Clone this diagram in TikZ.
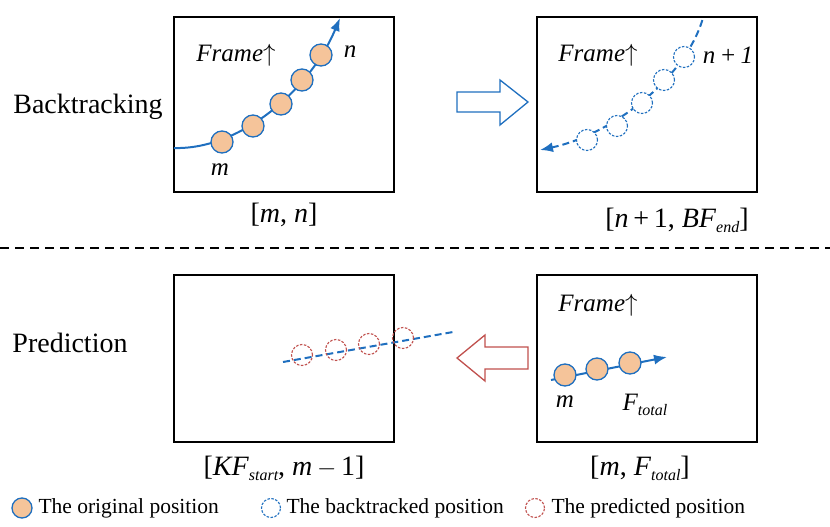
\documentclass[tikz,border=0pt]{standalone}
\usepackage{fontspec}
\setmainfont{Liberation Serif}
\usetikzlibrary{arrows.meta}
\definecolor{bl}{HTML}{1F6FBF}
\definecolor{rd}{HTML}{C0504D}
\definecolor{pe}{HTML}{F5C49A}
\newcommand{\mysub}[1]{\raisebox{-5pt}{\fontsize{16}{16}\selectfont\itshape #1}}
\tikzset{frm/.style={draw,line width=1.2pt},
orig/.style={circle,draw=bl,fill=pe,line width=1.3pt,minimum size=22pt,inner sep=0pt},
back/.style={circle,draw=bl,dash pattern=on 2.5pt off 1.5pt,line width=1.1pt,minimum size=21pt,inner sep=0pt},
pred/.style={circle,draw=rd,dash pattern=on 2.5pt off 1.5pt,line width=1.1pt,minimum size=21pt,inner sep=0pt},
lbl/.style={font=\fontsize{28}{30}\selectfont},
txt/.style={font=\fontsize{25}{27}\selectfont\itshape},
leg/.style={font=\fontsize{21.5}{24}\selectfont,anchor=west}}
\begin{document}
\begin{tikzpicture}[x=1pt,y=-1pt]
\useasboundingbox (0,0) rectangle (830,527);
\draw[frm] (174,17) rectangle (394,192);
\draw[frm] (537,17) rectangle (757,192);
\draw[frm] (174,275) rectangle (394,442);
\draw[frm] (537,275) rectangle (757,442);
\draw[line width=1.2pt,dash pattern=on 9pt off 6pt] (0,248)--(830,248);
\node[lbl] (bt) at (88,107) {Backtracking};
\node[lbl] (pr) at (70,343) {Prediction};
% top-left
\draw[bl,line width=2pt,-{Latex[length=13pt,width=10pt]}] (174,148) .. controls (240,150) and (310,90) .. (340,18);
\foreach \n/\x/\y in {a/222/142,b/253/126,c/281/104,d/302/80,e/321/55}\node[orig] (\n) at (\x,\y) {};
\node[txt] (f1) at (236,55) {Frame$\uparrow$};
\node[txt] (n1) at (350,52) {n};
\node[txt] (m1) at (220,170) {m};
\node[lbl] (l1) at (284,215) {[\textit{m}, \textit{n}]};
% top-right
\draw[bl,line width=2pt,dash pattern=on 7pt off 4pt,{Latex[length=13pt,width=10pt]}-] (540,150) .. controls (610,135) and (685,80) .. (703,18);
\foreach \n/\x/\y in {p/587/140,q/617/126,r/642/103,s/664/80,t/684/57}\node[back,fill=white] (\n) at (\x,\y) {};
\node[txt] (f2) at (598,55) {Frame$\uparrow$};
\node[txt] (n2) at (728,55) {n\,+\,1};
\node[lbl] (l2) at (677,220) {[\textit{n}\,+\,1, \textit{BF}\mysub{end}]};
\draw[bl,line width=1.3pt] (457,92)--(500,92)--(500,80)--(528,102)--(500,125)--(500,112)--(457,112)--cycle;
\coordinate (a1) at (492,102);
% bottom-left
\draw[bl,line width=2pt,dash pattern=on 7pt off 4pt] (283,362)--(453,332);
\foreach \n/\x/\y in {u/302/355,v/336/350,w/369/344,x/403/338}\node[pred] (\n) at (\x,\y) {};
\node[lbl] (l3) at (284,468) {[\textit{KF}\mysub{start}, \textit{m}\,$-$\,1]};
\draw[rd,line width=1.3pt] (528,347)--(485,347)--(485,335)--(457,358)--(485,381)--(485,369)--(528,369)--cycle;
\coordinate (a2) at (492,358);
% bottom-right
\draw[bl,line width=2pt,-{Latex[length=13pt,width=10pt]}] (551,380)--(667,357);
\foreach \n/\x/\y in {g/565/375,h/597/369,i/630/363}\node[orig] (\n) at (\x,\y) {};
\node[txt] (f3) at (598,305) {Frame$\uparrow$};
\node[txt] (m3) at (565,402) {m};
\node[txt] (ft) at (645,405) {F\mysub{total}};
\node[lbl] (l4) at (640,468) {[\textit{m}, \textit{F}\mysub{total}]};
% legend
\node[orig,minimum size=20pt] (lg1) at (22,508) {};
\node[leg] (t1) at (35,508) {The original position};
\node[back,minimum size=19pt] (lg2) at (271,508) {};
\node[leg] (t2) at (283,508) {The backtracked position};
\node[pred,minimum size=19pt] (lg3) at (535,508) {};
\node[leg] (t3) at (548,508) {The predicted position};
\end{tikzpicture}
\end{document}
